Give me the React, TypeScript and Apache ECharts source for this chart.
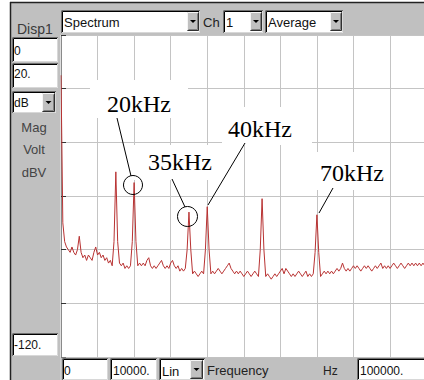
import React, { useEffect, useRef } from "react";
import * as echarts from "echarts";

// ---- data ----
const freqStepHz = 500;
const magnitudeDbV: number[] = [
  -15, -70, -77, -79, -80, -81, -79, -81, -82, -80,
  -75, -81, -83, -82, -84, -82, -83, -84, -81, -79,
  -82, -81, -83, -82, -84, -83, -85, -84, -86, -77,
  -51, -77, -85, -86, -85, -87, -86, -87, -86, -77,
  -55, -77, -86, -85, -86, -85, -86, -84, -83, -86,
  -87, -86, -87, -86, -85, -84, -86, -87, -86, -87,
  -85, -84, -86, -87, -86, -88, -87, -88, -87, -80,
  -66, -80, -89, -88, -89, -90, -89, -88, -89, -80,
  -64, -80, -89, -88, -89, -88, -87, -88, -89, -88,
  -87, -86, -85, -87, -88, -89, -88, -89, -88, -89,
  -90, -89, -88, -89, -90, -89, -88, -89, -90, -80,
  -61, -80, -90, -89, -90, -91, -90, -89, -90, -89,
  -88, -87, -89, -87, -88, -89, -90, -89, -90, -89,
  -88, -89, -90, -89, -88, -90, -89, -90, -89, -81,
  -67, -81, -90, -89, -88, -89, -88, -89, -88, -89,
  -88, -87, -88, -87, -85, -87, -88, -87, -88, -87,
  -86, -87, -86, -87, -88, -87, -86, -87, -86, -87,
  -88, -87, -86, -87, -86, -85, -87, -86, -87, -86,
  -87, -86, -85, -86, -87, -86, -85, -86, -87, -86,
  -85, -86, -85, -86, -85, -86, -85, -86, -85, -86,
  -86,
];
const xMin = 0;
const xMax = 100000;
const xInterval = 10000;
const yMin = -120;
const yMax = 0;
const yInterval = 20;

const annotationLabels = ["20kHz", "35kHz", "40kHz", "70kHz"];
const headerLabels = { disp: "Disp1", type: "Spectrum", ch: "Ch", chValue: "1", mode: "Average" };
const leftLabels = { top: "0", perDiv: "20.", unit: "dB", bottom: "-120." };
const unitNames = ["Mag", "Volt", "dBV"];
const bottomLabels = { start: "0", span: "10000.", scale: "Lin", quantity: "Frequency", unit: "Hz", end: "100000." };

const SANS = "Liberation Sans, Arial, Helvetica, sans-serif";
const SERIF = "Liberation Serif, Times New Roman, serif";

function txt(text: string, x: number, y: number, opts: any = {}) {
  return {
    type: "text",
    style: {
      text,
      x,
      y,
      fill: opts.fill || "#111",
      fontSize: opts.size || 13,
      fontFamily: opts.family || SANS,
      textAlign: opts.align || "left",
      textVerticalAlign: "middle",
    },
  };
}

function sunken(x: number, y: number, w: number, h: number) {
  return [
    { type: "rect", shape: { x, y, width: w, height: h }, style: { fill: "#ffffff" } },
    { type: "polyline", shape: { points: [[x + 0.5, y + h - 0.5], [x + w - 0.5, y + h - 0.5], [x + w - 0.5, y + 0.5]] }, style: { stroke: "#d8d8d8", lineWidth: 1, fill: null } },
    { type: "polyline", shape: { points: [[x + 0.5, y + h], [x + 0.5, y + 0.5], [x + w, y + 0.5]] }, style: { stroke: "#707070", lineWidth: 1, fill: null } },
    { type: "polyline", shape: { points: [[x + 1.5, y + h - 1], [x + 1.5, y + 1.5], [x + w - 1, y + 1.5]] }, style: { stroke: "#000000", lineWidth: 1, fill: null } },
  ];
}

function button(x: number, y: number, w: number, h: number) {
  const cx = x + w / 2;
  const cy = y + h / 2;
  return [
    { type: "rect", shape: { x, y, width: w, height: h }, style: { fill: "#c0c0c0" } },
    { type: "polyline", shape: { points: [[x + 0.5, y + h - 1], [x + 0.5, y + 0.5], [x + w - 1, y + 0.5]] }, style: { stroke: "#f4f4f4", lineWidth: 1, fill: null } },
    { type: "polyline", shape: { points: [[x + 0.5, y + h - 0.5], [x + w - 0.5, y + h - 0.5], [x + w - 0.5, y + 0.5]] }, style: { stroke: "#303030", lineWidth: 1, fill: null } },
    { type: "polyline", shape: { points: [[x + 1.5, y + h - 1.5], [x + w - 1.5, y + h - 1.5], [x + w - 1.5, y + 1.5]] }, style: { stroke: "#808080", lineWidth: 1, fill: null } },
    { type: "polygon", shape: { points: [[cx - 3, cy - 1.5], [cx + 3, cy - 1.5], [cx, cy + 1.5]] }, style: { fill: "#000" } },
  ];
}

function buildGraphics() {
  const els: any[] = [];
  // frame and panels
  els.push({ type: "rect", shape: { x: 10, y: 2, width: 420, height: 33 }, style: { fill: "#c0c0c0" } });
  els.push({ type: "rect", shape: { x: 10, y: 35, width: 50.5, height: 345 }, style: { fill: "#c0c0c0" } });
  els.push({ type: "rect", shape: { x: 60.5, y: 357.5, width: 370, height: 23 }, style: { fill: "#c0c0c0" } });
  els.push({ type: "line", shape: { x1: 10, y1: 2.5, x2: 430, y2: 2.5 }, style: { stroke: "#222", lineWidth: 1.5 } });
  els.push({ type: "line", shape: { x1: 10.5, y1: 2, x2: 10.5, y2: 380 }, style: { stroke: "#222", lineWidth: 1.5 } });

  // header
  els.push(txt(headerLabels.disp, 17, 28.5, { size: 14, fill: "#3a3a3a" }));
  els.push(...sunken(61, 10, 139, 23));
  els.push(...button(187, 12, 12, 19));
  els.push(txt(headerLabels.type, 64, 22.5));
  els.push(txt(headerLabels.ch, 203, 22.5, { fill: "#222" }));
  els.push(...sunken(223, 10, 40, 23));
  els.push(...button(250, 12, 12, 19));
  els.push(txt(headerLabels.chValue, 226, 22.5));
  els.push(...sunken(265, 10, 78, 23));
  els.push(...button(330, 12, 12, 19));
  els.push(txt(headerLabels.mode, 268, 22.5));

  // left panel
  els.push(...sunken(12, 37, 46, 25));
  els.push(txt(leftLabels.top, 14, 51, { size: 12 }));
  els.push(...sunken(12, 63, 46, 25));
  els.push(txt(leftLabels.perDiv, 14, 74, { size: 12 }));
  els.push(...sunken(12, 91, 44, 22));
  els.push(...button(42, 93, 13, 19));
  els.push(txt(leftLabels.unit, 14, 103, { size: 12 }));
  unitNames.forEach((u, i) => {
    els.push(txt(u, 34, [127, 149, 172][i], { size: 13, fill: "#444", align: "center" }));
  });
  els.push(...sunken(12, 333, 46, 23));
  els.push(txt(leftLabels.bottom, 14, 345, { size: 12 }));

  // bottom bar
  els.push(...sunken(62, 358, 46, 22));
  els.push(txt(bottomLabels.start, 64, 371, { size: 12 }));
  els.push(...sunken(110, 358, 47, 22));
  els.push(txt(bottomLabels.span, 113, 371, { size: 12 }));
  els.push(...sunken(159, 358, 46, 22));
  els.push(...button(190, 360, 13, 19));
  els.push(txt(bottomLabels.scale, 162, 371, { size: 13 }));
  els.push(txt(bottomLabels.quantity, 207, 370.5, { size: 13, fill: "#222" }));
  els.push(txt(bottomLabels.unit, 323, 371, { size: 12, fill: "#222" }));
  els.push(...sunken(357, 358, 73, 22));
  els.push(txt(bottomLabels.end, 360, 371, { size: 12 }));

  // annotation boxes
  const boxes = [
    [90, 80, 98, 38],
    [130, 145, 88, 35],
    [222, 107, 90, 38],
    [312, 152, 78, 38],
  ];
  boxes.forEach(([x, y, w, h]) => els.push({ type: "rect", shape: { x, y, width: w, height: h }, style: { fill: "#fff" } }));
  const labelPos = [
    [107, 103.5],
    [148, 162],
    [228, 128.5],
    [320, 173],
  ];
  annotationLabels.forEach((l, i) => els.push(txt(l, labelPos[i][0], labelPos[i][1], { size: 24, family: SERIF, fill: "#000" })));
  const leaders = [
    [117, 118, 131, 176],
    [172, 179, 185, 207],
    [245, 143, 208, 205],
    [333, 188, 319, 213],
  ];
  leaders.forEach(([x1, y1, x2, y2]) => els.push({ type: "line", shape: { x1, y1, x2, y2 }, style: { stroke: "#000", lineWidth: 1 } }));
  els.push({ type: "circle", shape: { cx: 133, cy: 185, r: 9.5 }, style: { stroke: "#000", fill: null, lineWidth: 1 } });
  els.push({ type: "circle", shape: { cx: 187.5, cy: 216.5, r: 10 }, style: { stroke: "#000", fill: null, lineWidth: 1 } });

  return els.map((e) => ({ ...e, z: 50 }));
}

export default function App() {
  const ref = useRef<HTMLDivElement>(null);
  useEffect(() => {
    if (!ref.current) return;
    const chart = echarts.init(ref.current, null, { renderer: "svg" });
    const data = magnitudeDbV.map((v, i) => [i * freqStepHz, v]);
    chart.setOption({
      animation: false,
      backgroundColor: "#ffffff",
      grid: { left: 61, right: 3.4, top: 35, bottom: 23, containLabel: false },
      xAxis: {
        type: "value",
        min: xMin,
        max: xMax,
        interval: xInterval,
        axisLabel: { show: false },
        axisLine: { show: false },
        axisTick: { show: true, inside: true, length: 6, lineStyle: { color: "#333", width: 1 } },
        splitLine: { show: true, lineStyle: { color: "#c4c4c4", width: 1 } },
      },
      yAxis: {
        type: "value",
        min: yMin,
        max: yMax,
        interval: yInterval,
        axisLabel: { show: false },
        axisLine: { show: true, lineStyle: { color: "#8a8a8a", width: 1 } },
        axisTick: { show: true, inside: true, length: 5, lineStyle: { color: "#333", width: 1 } },
        splitLine: { show: true, lineStyle: { color: "#c4c4c4", width: 1 } },
      },
      series: [
        {
          type: "line",
          data,
          showSymbol: false,
          symbol: "none",
          lineStyle: { color: "#b83232", width: 1 },
          z: 5,
        },
      ],
      graphic: { elements: buildGraphics() },
    });
    return () => chart.dispose();
  }, []);
  return (
    <div style={{ position: "fixed", left: 0, top: 0, width: 424, height: 380, overflow: "hidden", background: "#fff" }}>
      <div ref={ref} style={{ width: 430, height: 380 }} />
    </div>
  );
}
